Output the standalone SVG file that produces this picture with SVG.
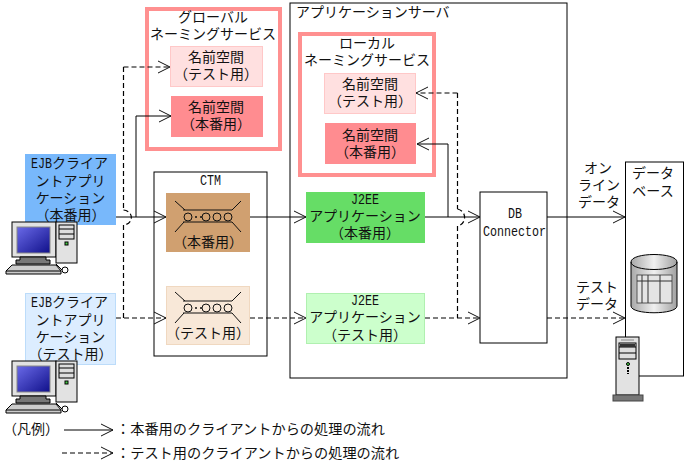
<svg xmlns="http://www.w3.org/2000/svg" width="687" height="467" viewBox="0 0 687 467">
<style>
text{font-family:"Noto Sans CJK JP","Noto Sans CJK SC",sans-serif;font-size:14px;fill:#111;text-anchor:middle}
.l{text-anchor:start}
.lg{font-size:14.2px}
.m,tspan.m{font-family:"Liberation Mono",monospace;font-size:14px}
.box{fill:#fff;stroke:#000;stroke-width:1}
.ns{fill:#fff;stroke:#ff9090;stroke-width:4}
.s{fill:none;stroke:#000;stroke-width:1;marker-end:url(#a)}
.d{fill:none;stroke:#000;stroke-width:1.2;stroke-dasharray:5 3;marker-end:url(#a)}
.pd{fill:none;stroke:#000;stroke-width:1.2;stroke-dasharray:5 3}
.o{stroke:#000;stroke-width:1;fill:#e2e2e2}
</style>
<defs>
<marker id="a" markerUnits="userSpaceOnUse" markerWidth="14" markerHeight="14" refX="13" refY="7" orient="auto"><path d="M1 1L13 7L1 13" fill="none" stroke="#111" stroke-width="1"/></marker>
<linearGradient id="scr" x1="0" y1="0" x2="1" y2="1"><stop offset="0" stop-color="#6a6ae8"/><stop offset="1" stop-color="#10108a"/></linearGradient>
<linearGradient id="cyl" x1="0" y1="0" x2="1" y2="0"><stop offset="0" stop-color="#a8a8a8"/><stop offset=".5" stop-color="#f0f0f0"/><stop offset="1" stop-color="#a0a0a0"/></linearGradient>
<g id="pc">
<rect class="o" x="12" y="222" width="44" height="35"/>
<rect x="17" y="227" width="33" height="26" fill="url(#scr)" stroke="#888"/>
<path d="M20 257h26v3h4v4H16v-4h4z" fill="#777" stroke="#000"/>
<rect class="o" x="56" y="222" width="21" height="41"/>
<rect x="59" y="225" width="15" height="14" fill="#ddd" stroke="#000"/>
<path d="M59 229h15M59 234h15" stroke="#000"/>
<rect x="65" y="242" width="3" height="3" fill="#4c4" stroke="#000"/>
<path d="M12 265H56L61 271V274H6V271Z" fill="#ccc" stroke="#000"/>
<path d="M6 271H61" stroke="#000"/>
<path d="M56 264L62 270" stroke="#000"/><circle cx="65" cy="270" r="3" fill="#fff" stroke="#000"/>
</g>
<g id="ring" fill="none" stroke="#111" stroke-width="1">
<path d="M183 210H232M183 222H232M175 201L185 210M241 201L232 210M175 232L184 222M241 232L232 222"/>
<circle cx="188" cy="217" r="4"/><circle cx="206" cy="217" r="4"/><circle cx="217" cy="217" r="4"/><circle cx="228" cy="217" r="4"/>
<path d="M195 217h2M200 217h2" stroke-width="1.5"/>
</g>
</defs>
<g id="app-server"><rect class="box" x="290" y="3" width="277" height="375"/><text x="296" y="17" class="l">アプリケーションサーバ</text></g>
<g id="database"><rect class="box" x="625.500" y="162" width="58" height="214"/><text x="653" y="178">データ</text><text x="653" y="196">ベース</text>
<path d="M631 262V306C631 315 677 315 677 306V262C677 252 631 252 631 262Z" fill="url(#cyl)" stroke="#000"/>
<path d="M631 262C631 272 677 272 677 262" fill="none" stroke="#000"/>
<rect x="637" y="275" width="35" height="28" fill="#e4e4e4" stroke="#555"/>
<path d="M637 281H672M642 275V303M648 275V303M660 275V303" stroke="#333" fill="none"/></g>
<g id="global-naming"><rect class="ns" x="147" y="9" width="133" height="140"/><text x="213" y="22">グローバル</text><text x="213" y="39">ネーミングサービス</text></g>
<g id="global-test"><rect x="170.500" y="46.500" width="92" height="40" fill="#ffe0e0" stroke="#ffc8c8"/><text x="216" y="62">名前空間</text><text x="216" y="79">（テスト用）</text></g>
<g id="global-prod"><rect x="171" y="96" width="92" height="41" fill="#ff8c90"/><text x="216" y="112">名前空間</text><text x="216" y="129">（本番用）</text></g>
<g id="local-naming"><rect class="ns" x="300" y="34" width="134" height="141"/><text x="367" y="48">ローカル</text><text x="367" y="65">ネーミングサービス</text></g>
<g id="local-test"><rect x="324.500" y="73.500" width="91" height="40" fill="#ffe0e0" stroke="#ffc8c8"/><text x="370" y="89">名前空間</text><text x="370" y="106">（テスト用）</text></g>
<g id="local-prod"><rect x="325" y="123" width="91" height="41" fill="#ff8c90"/><text x="370" y="140">名前空間</text><text x="370" y="157">（本番用）</text></g>
<g id="ctm"><rect class="box" x="154" y="172" width="113" height="184"/><text class="m l" x="200" y="185" textLength="21" lengthAdjust="spacingAndGlyphs">CTM</text></g>
<g id="ctm-prod"><rect x="166" y="193" width="84" height="59" fill="#d0a070"/><use href="#ring"/><text x="208" y="247">（本番用）</text></g>
<g id="ctm-test"><rect x="166.500" y="286.500" width="83" height="58" fill="#f8e8d8" stroke="#f0d8c0"/><use href="#ring" y="91"/><text x="208" y="338">（テスト用）</text></g>
<g id="ejb-prod"><rect x="25" y="154" width="91" height="71" fill="#78b8fb"/><text class="l" x="31" y="168"><tspan class="m" textLength="21" lengthAdjust="spacingAndGlyphs">EJB</tspan>クライア</text><text x="70.500" y="186">ントアプリ</text><text x="70.500" y="203">ケーション</text><text x="70.500" y="220">（本番用）</text></g>
<g id="ejb-test"><rect x="25.500" y="293.500" width="90" height="71" fill="#dcedff" stroke="#bcdcfa"/><text class="l" x="31" y="307"><tspan class="m" textLength="21" lengthAdjust="spacingAndGlyphs">EJB</tspan>クライア</text><text x="70.500" y="325">ントアプリ</text><text x="70.500" y="342">ケーション</text><text x="70.500" y="359">（テスト用）</text></g>
<g id="j2ee-prod"><rect x="306" y="192" width="119" height="51" fill="#66dd66"/><text class="m l" x="351" y="204" textLength="28" lengthAdjust="spacingAndGlyphs">J2EE</text><text x="365" y="221">アプリケーション</text><text x="365" y="238">（本番用）</text></g>
<g id="j2ee-test"><rect x="306.500" y="293.500" width="118" height="50" fill="#ccffcc" stroke="#b0f0b0"/><text class="m l" x="351" y="305" textLength="28" lengthAdjust="spacingAndGlyphs">J2EE</text><text x="365" y="322">アプリケーション</text><text x="365" y="340">（テスト用）</text></g>
<g id="db-connector"><rect class="box" x="480" y="192" width="67" height="151"/><text class="m l" x="508" y="218" textLength="14" lengthAdjust="spacingAndGlyphs">DB</text><text class="m l" x="483" y="236" textLength="63" lengthAdjust="spacingAndGlyphs">Connector</text></g>
<g id="pc1"><use href="#pc"/></g>
<g id="pc2"><use href="#pc" y="139"/></g>
<g id="server"><rect class="o" x="616" y="337" width="23" height="58"/><path d="M621 340h13" stroke="#888"/><rect x="619" y="343" width="17" height="16" fill="#ddd" stroke="#000"/><path d="M619 347h17M619 353h17" stroke="#000"/><rect x="620" y="344" width="15" height="3" fill="#333"/><circle cx="628" cy="364" r="1.500" fill="#4c4" stroke="#000"/><path d="M628 367v7" stroke="#000" stroke-dasharray="2 1" stroke-width="2"/><rect x="613" y="395" width="30" height="6" fill="#777" stroke="#444"/></g>
<g id="connectors">
<path class="s" d="M116 217H166"/>
<path class="s" d="M136 217V116H171"/>
<path class="d" d="M123.500 67H170"/>
<path class="pd" d="M123.500 67V210M123.500 225V318"/>
<path class="pd" d="M123.500 210C134 211 134 224 123.500 225"/>
<path class="d" d="M116 318H166"/>
<path class="s" d="M250 217H306"/>
<path class="d" d="M250 318H306"/>
<path class="s" d="M425 217H480"/>
<path class="s" d="M448 217V144H417"/>
<path class="d" d="M457.500 93H416"/>
<path class="pd" d="M457.500 93V209M457.500 226V318"/>
<path class="pd" d="M457.500 209C467 211 467 224 457.500 226"/>
<path class="d" d="M425 318H480"/>
<path class="s" d="M547 217H625"/>
<path class="d" d="M547 318H625"/>
</g>
<g id="edge-labels"><text x="598" y="173">オン</text><text x="599" y="190">ライン</text><text x="599" y="207">データ</text><text x="597" y="292">テスト</text><text x="597" y="309">データ</text></g>
<g id="legend">
<text x="31" y="434">（凡例）</text>
<path class="s" d="M64 430H113"/>
<path class="d" d="M62 453H113"/>
<text class="l lg" x="116" y="434">：本番用のクライアントからの処理の流れ</text>
<text class="l lg" x="116" y="458">：テスト用のクライアントからの処理の流れ</text>
</g>
</svg>
